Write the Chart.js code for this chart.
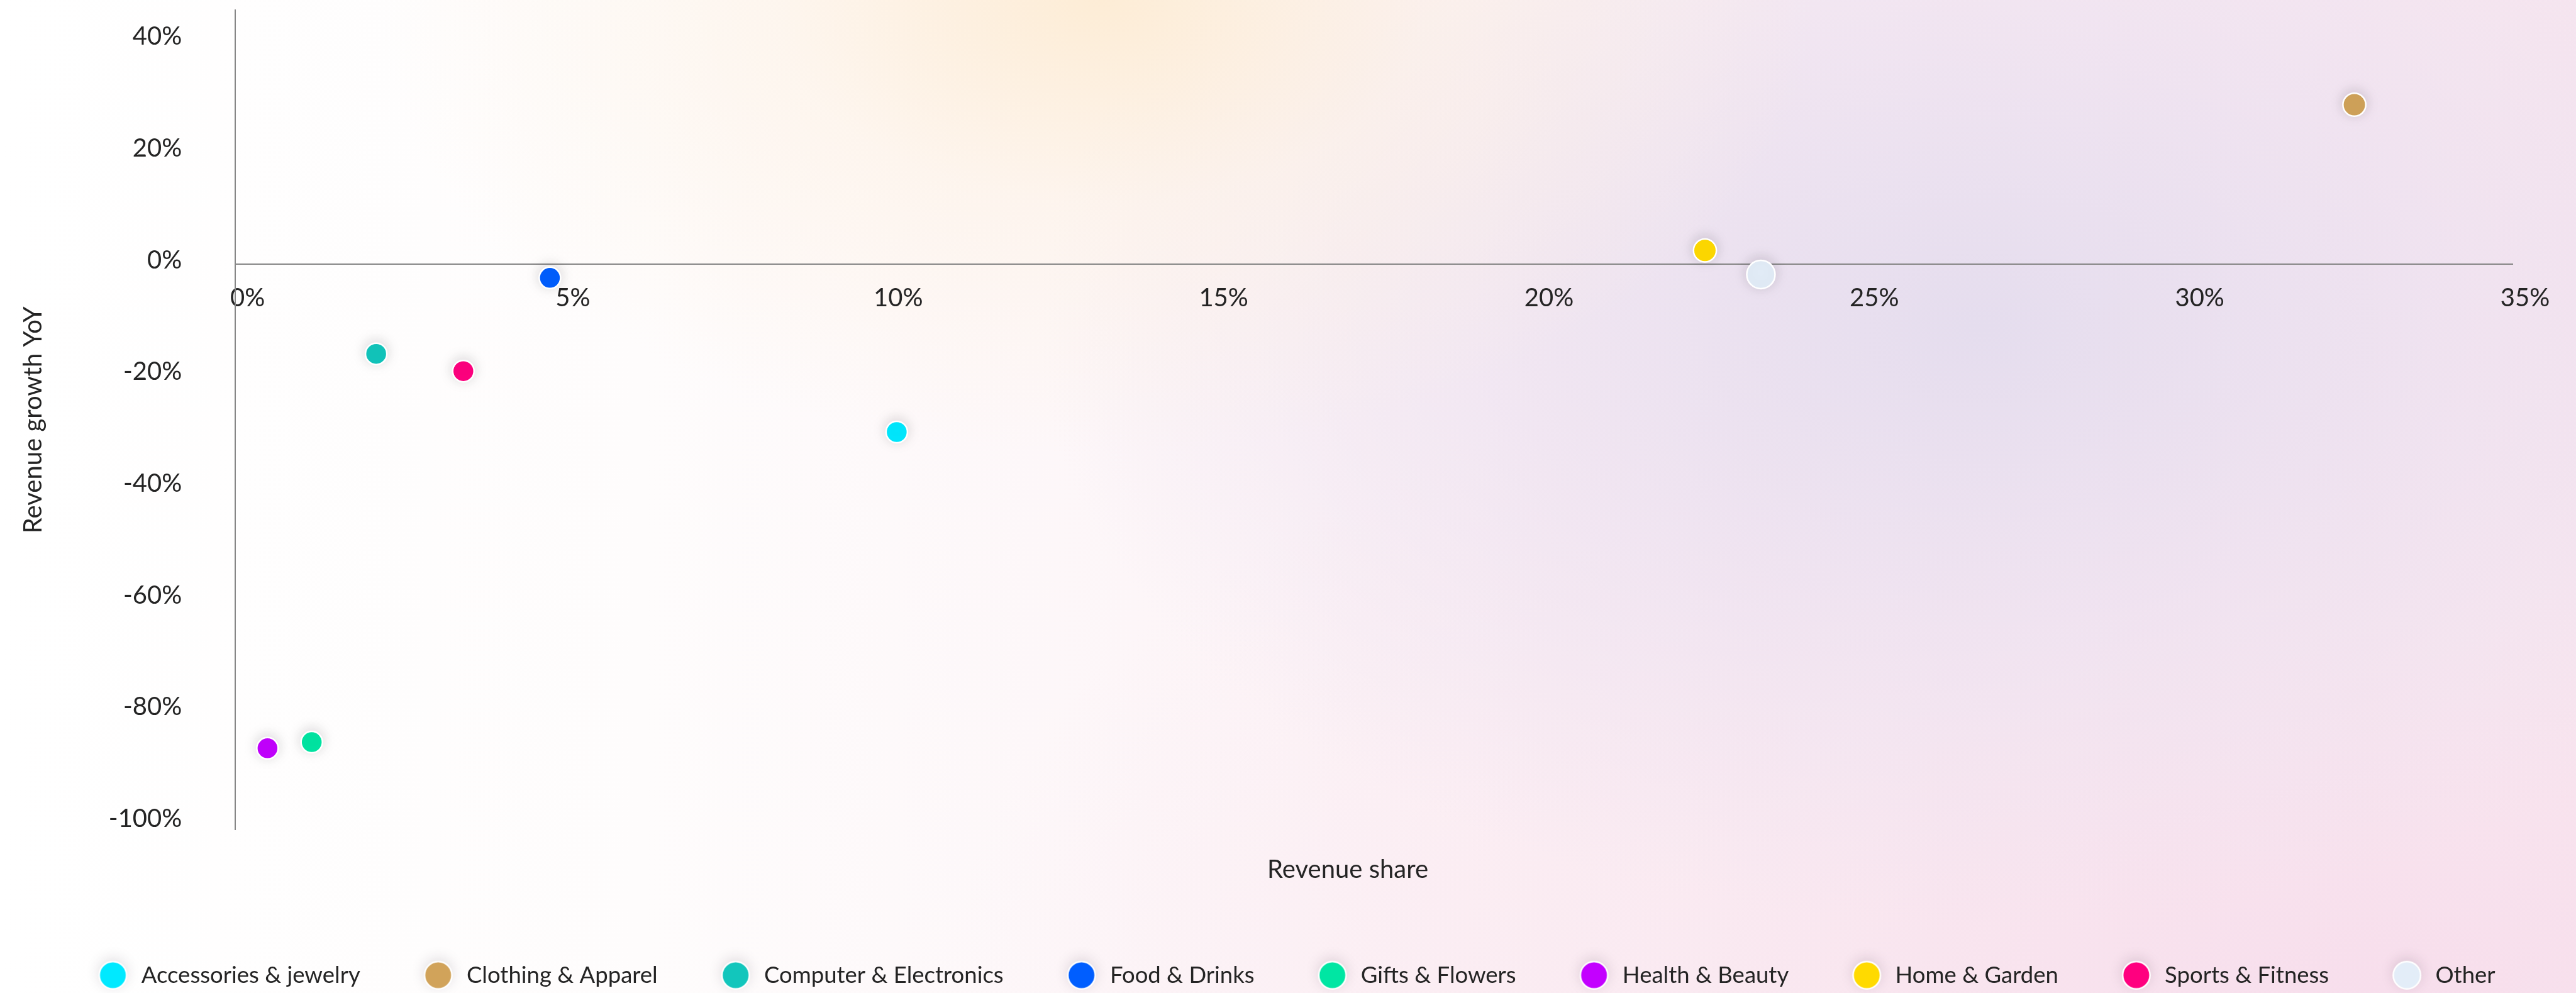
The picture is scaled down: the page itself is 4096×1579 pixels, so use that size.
<!DOCTYPE html>
<html>
<head>
<meta charset="utf-8">
<script src="https://cdn.jsdelivr.net/npm/chart.js@4.4.1/dist/chart.umd.min.js"></script>
<style>
  html, body { margin: 0; padding: 0; width: 4096px; height: 1579px; overflow: hidden; }
  body {
    background:
      radial-gradient(ellipse 1150px 720px at 1750px 0px, rgba(253,236,212,0.95) 0%, rgba(253,242,228,0.55) 45%, rgba(255,255,255,0) 100%),
      radial-gradient(ellipse 1500px 950px at 3150px 520px, rgba(229,221,238,1) 0%, rgba(235,224,240,0.65) 50%, rgba(255,255,255,0) 100%),
      radial-gradient(ellipse 2300px 1150px at 3800px 1579px, rgba(247,222,236,1) 0%, rgba(249,230,239,0.6) 50%, rgba(255,255,255,0) 100%),
      linear-gradient(90deg, #ffffff 0%, #fefcfc 25%, #fcf1f5 60%, #f8e6ef 100%);
  }
  #c { display: block; }
</style>
</head>
<body>
<canvas id="c" width="4096" height="1579"></canvas>
<script>
// ---- data ----
const categories = [
  'Accessories & jewelry', 'Clothing & Apparel', 'Computer & Electronics',
  'Food & Drinks', 'Gifts & Flowers', 'Health & Beauty',
  'Home & Garden', 'Sports & Fitness', 'Other'
];
const revenueShare  = [10.17, 32.57, 2.17, 4.84, 1.18, 0.50, 22.59, 3.51, 23.45];
const revenueGrowth = [-30.0, 28.6, -16.0, -2.4, -85.5, -86.6, 2.5, -19.1, -1.8];
const xTickValues = [0, 5, 10, 15, 20, 25, 30, 35];
const yTickValues = [40, 20, 0, -20, -40, -60, -80, -100];

// ---- styles ----
const colors = ['#00E9FF', '#D1A35A', '#12C6BC', '#005EFF', '#00E6A3', '#C300FF', '#FFDA00', '#FF007F', '#E3EDF8'];
const pointRadii = [17, 18.2, 17, 17, 17, 17, 18.2, 17, 22.5];
const FONT = 'Lato';
const TXT = '#242424';
const AXIS = '#868686';

function makeLegendMarker(color) {
  const c = document.createElement('canvas');
  c.width = 110; c.height = 110;
  const g = c.getContext('2d');
  g.shadowColor = 'rgba(40,30,50,0.17)';
  g.shadowBlur = 22;
  g.shadowOffsetY = -4;
  g.beginPath();
  g.arc(55, 55, 21.75, 0, Math.PI * 2);
  g.fillStyle = color;
  g.fill();
  g.shadowColor = 'rgba(0,0,0,0)';
  g.lineWidth = 2.5;
  g.strokeStyle = '#ffffff';
  g.stroke();
  return c;
}
const legendMarkers = colors.map(makeLegendMarker);

const pointShadow = {
  id: 'pointShadow',
  beforeDatasetDraw(chart) {
    const g = chart.ctx;
    g.save();
    g.shadowColor = 'rgba(40,30,50,0.17)';
    g.shadowBlur = 22;
    g.shadowOffsetY = -3;
  },
  afterDatasetDraw(chart) { chart.ctx.restore(); }
};

const tickFont = { family: FONT, size: 40, lineHeight: 1.2 };

new Chart(document.getElementById('c'), {
  type: 'scatter',
  data: {
    datasets: categories.map((name, i) => ({
      label: name,
      data: [{ x: revenueShare[i], y: revenueGrowth[i] }],
      backgroundColor: colors[i],
      borderColor: '#ffffff',
      borderWidth: 2.5,
      pointRadius: pointRadii[i],
      pointHoverRadius: pointRadii[i],
      pointStyle: 'circle'
    }))
  },
  options: {
    responsive: false,
    animation: false,
    devicePixelRatio: 1,
    layout: { autoPadding: false, padding: { left: 24, right: 0, top: 16.3, bottom: 0 } },
    scales: {
      x: {
        type: 'linear',
        position: { y: 0 },
        min: 0, max: 35,
        afterBuildTicks: s => { s.ticks = xTickValues.map(v => ({ value: v })); },
        afterFit: s => { s.paddingLeft = 0; s.paddingRight = 0; },
        grid: { display: false, drawTicks: false },
        border: { display: true, color: AXIS, width: 2 },
        ticks: {
          color: TXT, font: tickFont, padding: 29.6, labelOffset: 20,
          autoSkip: false, maxRotation: 0,
          callback: v => v + '%'
        },
        title: { display: false }
      },
      x2: {
        type: 'linear',
        position: 'bottom',
        display: true,
        stack: 'xtitle',
        stackWeight: 0.9772,
        grid: { display: false, drawTicks: false },
        border: { display: false },
        ticks: { display: false },
        title: {
          display: true, text: 'Revenue share', color: TXT,
          font: { family: FONT, size: 40, lineHeight: 1.2 },
          padding: { top: 39.4, bottom: 28.6 }
        }
      },
      x3: {
        type: 'linear',
        position: 'bottom',
        display: true,
        stack: 'xtitle',
        stackWeight: 0.0228,
        grid: { display: false, drawTicks: false },
        border: { display: false },
        ticks: { display: false }
      },
      y: {
        type: 'linear',
        position: 'left',
        min: -101.2, max: 45.5,
        afterBuildTicks: s => { s.ticks = yTickValues.map(v => ({ value: v })); },
        afterFit: s => { s.width = 349.6; s.paddingTop = 0; s.paddingBottom = 0; },
        grid: { display: false, drawTicks: false },
        border: { display: true, color: AXIS, width: 2 },
        ticks: {
          color: TXT, font: tickFont, padding: 84.3, labelOffset: -6.7,
          autoSkip: false,
          callback: v => v + '%'
        },
        title: {
          display: true, text: 'Revenue growth YoY', color: TXT,
          font: { family: FONT, size: 40, lineHeight: 1.2 },
          padding: { top: 4.7, bottom: 0 }
        }
      },
      y2: {
        type: 'linear',
        position: 'right',
        display: true,
        grid: { display: false, drawTicks: false },
        border: { display: false },
        ticks: { display: false },
        afterFit: s => { s.width = 101; }
      }
    },
    plugins: {
      tooltip: { enabled: false },
      legend: {
        display: true,
        position: 'bottom',
        align: 'center',
        labels: {
          usePointStyle: true,
          pointStyleWidth: 54,
          padding: 97,
          color: TXT,
          font: { family: FONT, size: 36.5 },
          generateLabels(chart) {
            const items = Chart.defaults.plugins.legend.labels.generateLabels(chart);
            items.forEach(it => { it.pointStyle = legendMarkers[it.datasetIndex]; it.lineWidth = 0; });
            return items;
          }
        }
      }
    }
  },
  plugins: [pointShadow]
});
</script>
</body>
</html>
